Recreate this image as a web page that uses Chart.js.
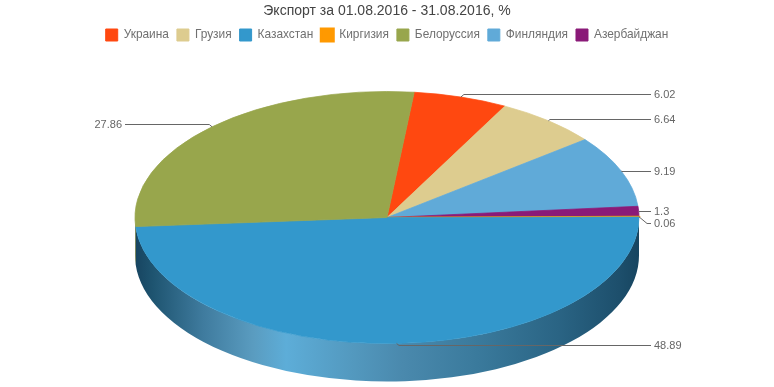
<!DOCTYPE html>
<html><head><meta charset="utf-8">
<style>html,body{margin:0;padding:0;background:#fff}canvas{display:block}</style>
<script src="https://cdn.jsdelivr.net/npm/chart.js@4"></script>
</head><body><canvas id="c" width="774" height="387"></canvas>
<script>
// Slices in clockwise order, as they appear on the pie
const categories = ['Украина','Грузия','Финляндия','Азербайджан','Киргизия','Казахстан','Белоруссия'];
const values = [6.02,6.64,9.19,1.3,0.06,48.89,27.86];
const colors = ['#FF4810','#DDCC8F','#60AAD8','#8A1A78','#FF9900','#3398CC','#98A64C'];
const legendOrder = ['Украина','Грузия','Казахстан','Киргизия','Белоруссия','Финляндия','Азербайджан'];
const labelNudge = [-3,-2,0,0,6,2,-3];

const FONT = '"Liberation Sans", Arial, sans-serif';
const SQUASH = 0.5, DEPTH = 38, CENTER_Y = 217.5, RADIUS = 252;
const LINE_R = 651, TEXT_R = 654, LINE_L = 125, TEXT_L = 122;
// side-wall shading across the pie's width
const kazakhWall = [[0,'#174460'],[.035,'#1e5470'],[.135,'#3f7b9e'],[.235,'#5a9cc0'],[.3,'#5dadd8'],[.43,'#5399bf'],[.53,'#4a89ad'],[.68,'#3a7a9c'],[.84,'#2a6484'],[.96,'#1d4f6c'],[1,'#174560']];
const belarusWall = [[0,'#5f6b2c'],[1,'#7a8a3a']];
const wallStops = [[],[],[],[],[],kazakhWall,belarusWall];

const pie3d = {
  id:'pie3d',
  beforeDatasetsDraw(chart){
    const ctx = chart.ctx, arcs = chart.getDatasetMeta(0).data;
    ctx.save();
    arcs.forEach((arc,i)=>{
      if (!wallStops[i].length) return;
      const {x,startAngle,endAngle,outerRadius:R} = arc.getProps(['x','startAngle','endAngle','outerRadius'],true);
      const a = Math.max(startAngle,0), b = Math.min(endAngle,Math.PI);
      if (b<=a) return;
      const g = ctx.createLinearGradient(x-R,0,x+R,0);
      wallStops[i].forEach(([p,c])=>g.addColorStop(p,c));
      ctx.fillStyle = g;
      ctx.beginPath();
      ctx.ellipse(x,CENTER_Y,R,R*SQUASH,0,a,b,false);
      ctx.ellipse(x,CENTER_Y+DEPTH,R,R*SQUASH,0,b,a,true);
      ctx.closePath();
      ctx.fill();
    });
    ctx.restore();
    // flatten the library's circular arcs into the tilted disc
    const first = arcs[0];
    ctx.save();
    ctx.translate(first.x,CENTER_Y);
    ctx.scale(1,SQUASH);
    ctx.translate(-first.x,-first.y);
  },
  afterDatasetsDraw(chart){
    const ctx = chart.ctx, arcs = chart.getDatasetMeta(0).data;
    ctx.restore();
    ctx.save();
    ctx.font = '11px '+FONT;
    ctx.textBaseline = 'middle';
    arcs.forEach((arc,i)=>{
      const {x,startAngle,endAngle,outerRadius:R} = arc.getProps(['x','startAngle','endAngle','outerRadius'],true);
      const m = (startAngle+endAngle)/2;
      const ax = x+R*Math.cos(m), ay = CENTER_Y+R*SQUASH*Math.sin(m);
      const ly = Math.round(ay+labelNudge[i])+.5;
      const right = Math.cos(m)>=0;
      const elbow = Math.abs(ly-ay)*1.2;
      ctx.strokeStyle='#666'; ctx.lineWidth=1;
      ctx.beginPath();
      ctx.moveTo(ax,ay);
      ctx.lineTo(ax+(right?elbow:-elbow),ly);
      ctx.lineTo(right?LINE_R:LINE_L,ly);
      ctx.stroke();
      ctx.fillStyle='#666';
      ctx.textAlign = right?'left':'right';
      ctx.fillText(String(values[i]), right?TEXT_R:TEXT_L, ly);
    });
    ctx.restore();
  }
};

new Chart(document.getElementById('c'),{
  type:'pie',
  data:{labels:categories,datasets:[{
    data:values,backgroundColor:colors,borderColor:colors,
    borderWidth:[1,1,1,1,3,1,1],clip:false
  }]},
  plugins:[pie3d],
  options:{
    responsive:false,animation:false,
    rotation:6.2,radius:RADIUS,
    layout:{padding:{top:0,bottom:0}},
    plugins:{
      tooltip:{enabled:false},
      title:{display:true,text:'Экспорт за 01.08.2016 - 31.08.2016, %',color:'#444',
        font:{family:FONT,size:14,weight:'normal',lineHeight:1},padding:{top:4,bottom:3}},
      legend:{position:'top',labels:{
        boxWidth:12,boxHeight:12,padding:8,color:'#707070',
        font:{family:FONT,size:11.9},
        sort:(a,b)=>legendOrder.indexOf(a.text)-legendOrder.indexOf(b.text)
      }}
    }
  }
});
</script></body></html>
